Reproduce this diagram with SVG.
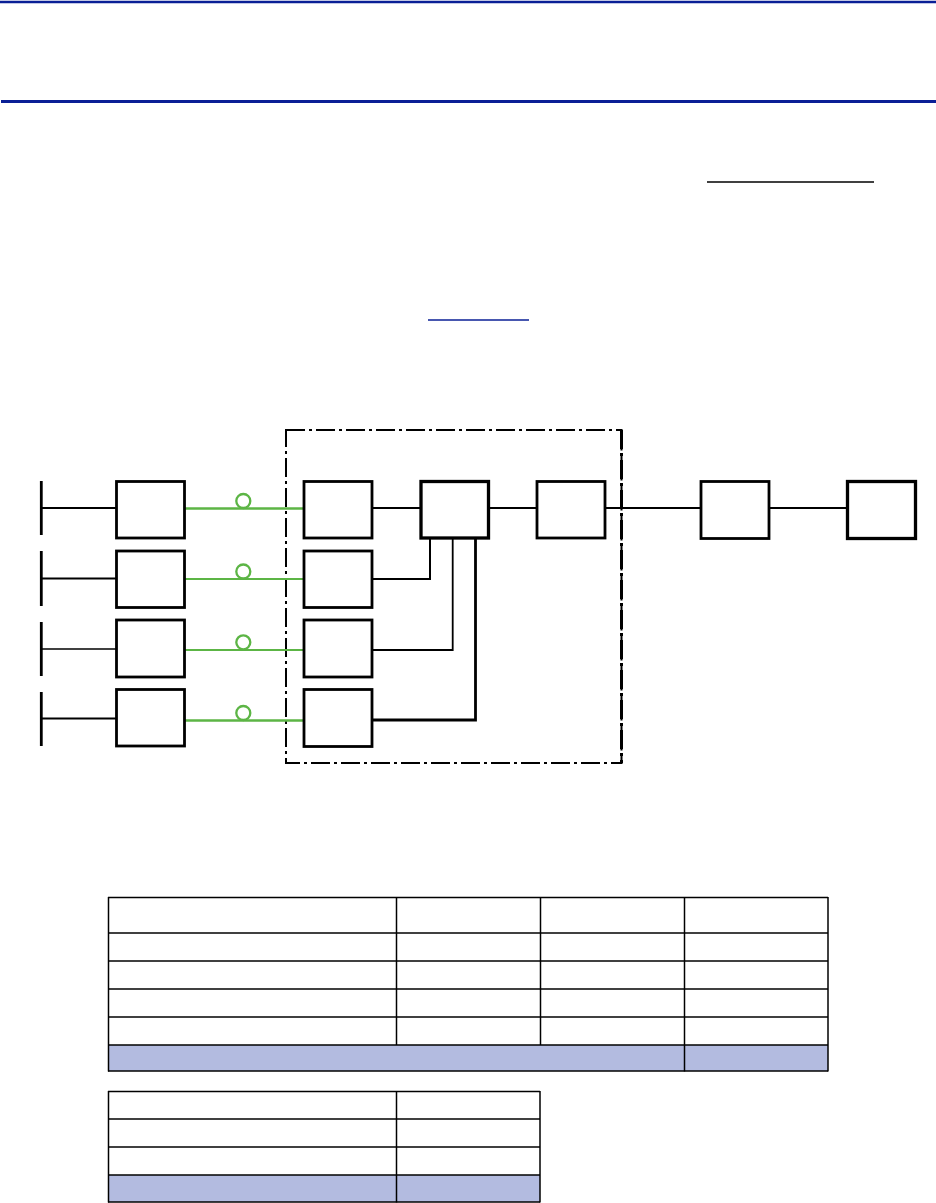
<svg xmlns="http://www.w3.org/2000/svg" width="936" height="1203" viewBox="0 0 936 1203">
<style>
.rule{stroke:#0a1f96;fill:none}
.box{fill:#fff;stroke:#000;stroke-width:2.8}
.boxt{fill:#fff;stroke:#000;stroke-width:3.3}
.bus{stroke:#000;stroke-width:2.8;fill:none}
.w{stroke:#000;fill:none}
.g{stroke:#5cb545;fill:none}
.gc{stroke:#5cb545;stroke-width:2.3;fill:#fff}
.frame{fill:none;stroke:#000;stroke-width:2;stroke-dasharray:19 4 3 4}
.tl{stroke:#000;stroke-width:1.5;fill:none}
.shade{fill:#b3bbe0}
</style>
<rect width="936" height="1203" fill="#fff"/>
<g id="header">
<line class="rule" x1="0" y1="2" x2="936" y2="2" stroke-width="2.5"/>
<line class="rule" x1="1" y1="101.5" x2="936" y2="101.5" stroke-width="3"/>
<line x1="707" y1="182" x2="874" y2="182" stroke="#000" stroke-width="1.5"/>
<line x1="428" y1="320" x2="529" y2="320" stroke="#0a1f96" stroke-width="1.5"/>
</g>
<g id="frame"><rect class="frame" x="286" y="430" width="335.5" height="333"/>
<line x1="621.5" y1="430" x2="621.5" y2="763" stroke="#000" stroke-width="3" stroke-dasharray="19 4 3 4"/></g>
<g id="connectors">
<line class="w" stroke-width="1.8" x1="41" y1="508" x2="116" y2="508"/>
<line class="w" stroke-width="2.2" x1="41" y1="578.5" x2="116" y2="578.5"/>
<line class="w" stroke-width="1.6" x1="41" y1="649" x2="116" y2="649"/>
<line class="w" stroke-width="1.8" x1="41" y1="718.5" x2="116" y2="718.5"/>
<line class="g" stroke-width="2.6" x1="185" y1="508.5" x2="304" y2="508.5"/>
<line class="g" stroke-width="1.8" x1="185" y1="579" x2="304" y2="579"/>
<line class="g" stroke-width="1.8" x1="185" y1="650" x2="304" y2="650"/>
<line class="g" stroke-width="2.6" x1="185" y1="720.5" x2="304" y2="720.5"/>
<line class="w" stroke-width="1.8" x1="372" y1="508" x2="420" y2="508"/>
<line class="w" stroke-width="1.8" x1="489" y1="508" x2="537" y2="508"/>
<line class="w" stroke-width="1.8" x1="605" y1="508" x2="701" y2="508"/>
<line class="w" stroke-width="1.8" x1="769" y1="508" x2="847" y2="508"/>
<polyline class="w" stroke-width="2" points="430,538 430,579 372,579"/>
<polyline class="w" stroke-width="1.8" points="452.7,538 452.7,650 372,650"/>
<polyline class="w" stroke-width="2.8" points="475.5,538 475.5,720 372,720"/>
</g>
<g id="buses">
<line class="bus" x1="41.3" y1="481" x2="41.3" y2="535"/>
<line class="bus" x1="41.3" y1="551" x2="41.3" y2="606"/>
<line class="bus" x1="41.3" y1="622" x2="41.3" y2="676"/>
<line class="bus" x1="41.3" y1="692" x2="41.3" y2="746"/>
</g>
<g id="left-boxes">
<rect class="box" x="116.5" y="481.5" width="68" height="56.5"/>
<rect class="box" x="116.5" y="551" width="68" height="56.5"/>
<rect class="box" x="116.5" y="620" width="68" height="57"/>
<rect class="box" x="116.5" y="689.5" width="68" height="56.5"/>
</g>
<g id="circles">
<circle class="gc" cx="243.3" cy="501" r="7"/>
<circle class="gc" cx="243.3" cy="571.5" r="7"/>
<circle class="gc" cx="243.3" cy="642.3" r="7"/>
<circle class="gc" cx="243.3" cy="713" r="7"/>
</g>
<g id="inner-boxes">
<rect class="box" x="304" y="481.5" width="68" height="56.5"/>
<rect class="box" x="304" y="551" width="68" height="56.5"/>
<rect class="box" x="304" y="620" width="68" height="57"/>
<rect class="box" x="304" y="689.5" width="68" height="57"/>
</g>
<g id="hub"><rect class="boxt" x="421" y="481.5" width="67.5" height="56.5"/></g>
<g id="box-f"><rect class="box" x="537" y="481.5" width="68" height="56.5"/></g>
<g id="box-g"><rect class="box" x="701" y="481.5" width="68" height="57"/></g>
<g id="box-h"><rect class="boxt" x="847.5" y="481.5" width="68" height="57"/></g>
<g id="table1">
<rect class="shade" x="108" y="1045" width="720" height="26"/>
<line class="tl" x1="108" y1="897.5" x2="828" y2="897.5"/>
<line class="tl" x1="108" y1="933" x2="828" y2="933"/>
<line class="tl" x1="108" y1="961" x2="828" y2="961"/>
<line class="tl" x1="108" y1="989" x2="828" y2="989"/>
<line class="tl" x1="108" y1="1017" x2="828" y2="1017"/>
<line class="tl" x1="108" y1="1045" x2="828" y2="1045"/>
<line class="tl" x1="108" y1="1071" x2="828" y2="1071"/>
<line class="tl" x1="108.5" y1="897" x2="108.5" y2="1071.5"/>
<line class="tl" x1="396.5" y1="897" x2="396.5" y2="1045"/>
<line class="tl" x1="540.5" y1="897" x2="540.5" y2="1045"/>
<line class="tl" x1="684.5" y1="897" x2="684.5" y2="1071.5"/>
<line class="tl" x1="828" y1="897" x2="828" y2="1071.5"/>
</g>
<g id="table2">
<rect class="shade" x="108" y="1175" width="432" height="27"/>
<line class="tl" x1="108" y1="1091.5" x2="540" y2="1091.5"/>
<line class="tl" x1="108" y1="1119" x2="540" y2="1119"/>
<line class="tl" x1="108" y1="1147" x2="540" y2="1147"/>
<line class="tl" x1="108" y1="1175" x2="540" y2="1175"/>
<line class="tl" x1="108" y1="1202" x2="540" y2="1202"/>
<line class="tl" x1="108.5" y1="1091" x2="108.5" y2="1202.5"/>
<line class="tl" x1="396.5" y1="1091" x2="396.5" y2="1202.5"/>
<line class="tl" x1="540" y1="1091" x2="540" y2="1202.5"/>
</g>
</svg>
